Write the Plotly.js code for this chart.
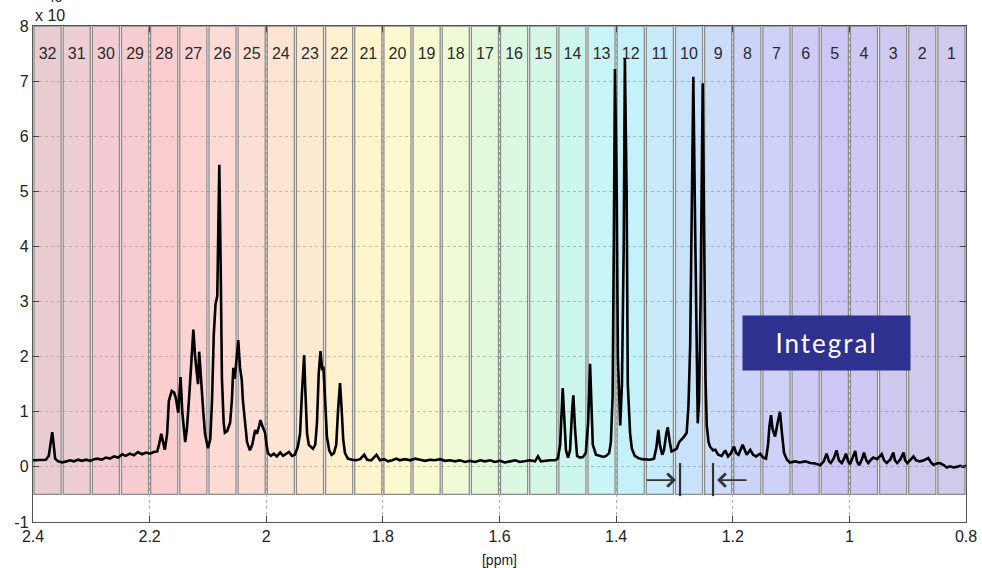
<!DOCTYPE html>
<html>
<head>
<meta charset="utf-8">
<script src="https://cdn.plot.ly/plotly-3.0.1.min.js"></script>
<style>html,body{margin:0;padding:0;background:#fff;}#chart{width:982px;height:568px;}</style>
</head>
<body>
<div id="chart"></div>
<script>
// ---- Data ----
const ppm = [
2.400,2.388,2.378,2.373,2.369,2.367,2.365,2.362,2.357,2.350,
2.343,2.337,2.330,2.323,2.316,2.309,2.302,2.295,2.289,2.282,
2.275,2.268,2.261,2.254,2.247,2.241,2.234,2.227,2.220,2.213,
2.206,2.199,2.193,2.187,2.184,2.180,2.177,2.174,2.170,2.167,
2.162,2.158,2.155,2.151,2.147,2.144,2.139,2.136,2.132,2.129,
2.125,2.122,2.119,2.117,2.115,2.112,2.108,2.105,2.100,2.096,
2.093,2.090,2.087,2.084,2.082,2.0805,2.078,2.076,2.073,2.071,
2.067,2.062,2.059,2.0565,2.054,2.051,2.048,2.045,2.042,2.040,
2.036,2.033,2.028,2.024,2.019,2.016,2.012,2.010,2.007,2.005,
2.002,1.9995,1.997,1.992,1.987,1.982,1.976,1.971,1.966,1.961,
1.956,1.951,1.946,1.942,1.939,1.935,1.933,1.930,1.927,1.923,
1.920,1.916,1.913,1.910,1.907,1.904,1.902,1.899,1.896,1.892,
1.888,1.884,1.880,1.877,1.8735,1.871,1.868,1.865,1.860,1.853,
1.846,1.839,1.832,1.827,1.820,1.811,1.805,1.798,1.791,1.784,
1.777,1.771,1.762,1.753,1.745,1.736,1.728,1.719,1.711,1.702,
1.693,1.685,1.676,1.668,1.659,1.651,1.642,1.633,1.625,1.616,
1.608,1.599,1.591,1.582,1.573,1.565,1.556,1.548,1.539,1.534,
1.529,1.522,1.513,1.505,1.500,1.496,1.494,1.4916,1.489,1.486,
1.4825,1.479,1.4756,1.4734,1.4705,1.467,1.462,1.457,1.452,1.448,
1.4447,1.442,1.440,1.4345,1.428,1.422,1.417,1.412,1.409,1.406,
1.404,1.402,1.399,1.397,1.393,1.390,1.387,1.385,1.382,1.380,
1.376,1.373,1.368,1.362,1.356,1.349,1.342,1.335,1.331,1.3276,
1.325,1.321,1.318,1.314,1.3115,1.308,1.305,1.301,1.296,1.292,
1.2875,1.2835,1.279,1.276,1.273,1.2707,1.2676,1.2647,1.262,1.260,
1.2578,1.2552,1.2515,1.2492,1.2467,1.2446,1.2415,1.239,1.234,1.230,
1.225,1.219,1.213,1.208,1.203,1.198,1.194,1.190,1.183,1.176,
1.170,1.165,1.160,1.153,1.148,1.143,1.1395,1.137,1.1343,1.132,
1.1275,1.123,1.119,1.1155,1.112,1.107,1.102,1.093,1.085,1.076,
1.067,1.059,1.050,1.044,1.039,1.035,1.032,1.027,1.022,1.018,
1.013,1.009,1.006,1.002,0.999,0.995,0.990,0.987,0.983,0.978,
0.975,0.971,0.9675,0.963,0.959,0.9525,0.9445,0.9405,0.936,0.930,
0.9246,0.922,0.918,0.913,0.907,0.9045,0.9006,0.896,0.890,0.8857,
0.879,0.872,0.8646,0.860,0.856,0.850,0.8445,0.8376,0.833,0.827,
0.822,0.816,0.810,0.805,0.800
];
const intensity = [
0.12,0.12,0.13,0.2,0.5,0.63,0.45,0.15,0.1,0.08,
0.1,0.12,0.1,0.13,0.11,0.13,0.11,0.14,0.15,0.13,
0.17,0.15,0.19,0.17,0.23,0.2,0.24,0.21,0.27,0.23,
0.26,0.24,0.27,0.28,0.4,0.6,0.45,0.31,0.6,1.2,
1.38,1.35,1.25,0.98,1.63,1.0,0.45,0.7,1.3,1.9,
2.49,2.0,1.7,1.5,2.09,1.55,1.0,0.6,0.34,0.5,
1.2,2.4,2.95,3.1,4.5,5.48,3.5,1.6,0.8,0.62,
0.65,0.8,1.2,1.8,1.6,1.9,2.3,1.8,1.58,1.2,
0.7,0.45,0.3,0.4,0.67,0.6,0.75,0.85,0.75,0.68,
0.62,0.4,0.25,0.2,0.24,0.19,0.26,0.2,0.23,0.27,
0.2,0.22,0.36,0.6,1.3,2.03,1.4,0.6,0.4,0.36,
0.33,0.4,0.8,1.7,2.1,1.75,1.82,1.2,0.55,0.3,
0.22,0.25,0.4,1.0,1.52,1.1,0.5,0.25,0.15,0.13,
0.12,0.14,0.22,0.13,0.12,0.22,0.12,0.14,0.1,0.12,
0.15,0.12,0.14,0.12,0.15,0.13,0.11,0.13,0.12,0.14,
0.11,0.12,0.1,0.12,0.09,0.11,0.09,0.12,0.1,0.12,
0.09,0.11,0.08,0.1,0.12,0.09,0.1,0.12,0.1,0.19,
0.1,0.11,0.12,0.12,0.15,0.4,1.0,1.43,0.9,0.3,
0.17,0.3,1.0,1.3,0.7,0.2,0.17,0.18,0.25,0.8,
1.87,1.1,0.4,0.22,0.2,0.18,0.2,0.25,0.45,1.3,
4.0,7.22,5.0,2.0,0.75,1.5,4.0,7.42,5.0,1.5,
0.6,0.33,0.2,0.16,0.14,0.13,0.13,0.15,0.35,0.67,
0.4,0.22,0.3,0.6,0.72,0.45,0.28,0.3,0.33,0.45,
0.5,0.55,0.62,1.1,2.2,4.0,7.08,4.5,1.6,0.79,
1.2,3.0,6.96,4.0,1.6,0.75,0.45,0.37,0.3,0.31,
0.22,0.2,0.3,0.19,0.25,0.37,0.25,0.22,0.4,0.22,
0.31,0.22,0.19,0.24,0.17,0.15,0.4,0.75,0.94,0.7,
0.55,0.8,1.0,0.6,0.25,0.13,0.08,0.1,0.08,0.1,
0.07,0.06,0.03,0.1,0.24,0.1,0.07,0.15,0.3,0.12,
0.07,0.15,0.24,0.1,0.05,0.15,0.29,0.1,0.03,0.15,
0.26,0.12,0.07,0.13,0.17,0.14,0.23,0.12,0.07,0.13,
0.26,0.12,0.07,0.13,0.26,0.12,0.07,0.12,0.19,0.12,
0.1,0.12,0.16,0.08,0.04,0.06,0.07,0.03,-0.01,0.01,
-0.01,0.0,0.02,0.0,0.02
];
// 32 integration bins, numbered from the right (0.8 ppm) to the left (2.4 ppm)
const binLabels = [1,2,3,4,5,6,7,8,9,10,11,12,13,14,15,16,17,18,19,20,21,22,23,24,25,26,27,28,29,30,31,32];
const binStartPpm = 0.8;
const binWidthPpm = 0.05;
const binBottom = -0.5;
const binTop = 8;
// integration limits marked by the arrows
const integralLimits = [1.2904, 1.2338];
const xTickVals = [2.4, 2.2, 2.0, 1.8, 1.6, 1.4, 1.2, 1.0, 0.8];
const xTickText = ['2.4','2.2','2','1.8','1.6','1.4','1.2','1','0.8'];
const yTickVals = [-1, 0, 1, 2, 3, 4, 5, 6, 7, 8];
const yTickText = ['-1','0','1','2','3','4','5','6','7','8'];

// ---- Styles ----
const binColors = [
'rgba(150,140,210,0.45)','rgba(150,138,215,0.45)','rgba(148,136,222,0.45)','rgba(146,134,228,0.45)',
'rgba(142,130,232,0.45)','rgba(138,132,236,0.42)','rgba(132,140,238,0.40)','rgba(125,150,240,0.40)',
'rgba(118,165,242,0.38)','rgba(110,180,244,0.38)','rgba(100,200,244,0.36)','rgba(95,215,240,0.36)',
'rgba(95,225,225,0.34)','rgba(100,228,205,0.32)','rgba(115,230,180,0.30)','rgba(135,232,160,0.30)',
'rgba(165,236,140,0.30)','rgba(200,240,120,0.30)','rgba(230,240,110,0.32)','rgba(248,236,110,0.34)',
'rgba(252,226,110,0.34)','rgba(252,212,120,0.36)','rgba(252,198,130,0.36)','rgba(252,186,140,0.38)',
'rgba(252,172,148,0.38)','rgba(252,162,150,0.40)','rgba(250,152,150,0.42)','rgba(246,142,145,0.44)',
'rgba(236,140,150,0.44)','rgba(226,142,155,0.45)','rgba(214,146,158,0.45)','rgba(204,150,160,0.48)'
];
const binCenters = binLabels.map(k => binStartPpm + (k - 0.5) * binWidthPpm);
const FONT = '"Liberation Sans", Arial, sans-serif';

const traces = [
  {
    type: 'bar', x: binCenters, y: binLabels.map(() => binTop - binBottom), base: binBottom,
    width: binWidthPpm * 0.93,
    marker: { color: binColors, line: { color: '#8c8c8c', width: 1.3 } },
    hoverinfo: 'skip', showlegend: false
  },
  {
    type: 'scatter', mode: 'text', x: binCenters, y: binLabels.map(() => 7.47),
    text: binLabels.map(String), textposition: 'middle center',
    textfont: { family: FONT, size: 16, color: '#2a2a2a' },
    hoverinfo: 'skip', showlegend: false
  },
  {
    type: 'scatter', mode: 'lines', x: ppm, y: intensity,
    line: { color: '#000', width: 2.6 },
    hoverinfo: 'skip', showlegend: false
  }
];

const shapes = integralLimits.map(v => ({
  type: 'line', xref: 'x', yref: 'y', x0: v, x1: v, y0: 0.07, y1: -0.53,
  line: { color: '#333', width: 2.2 }
}));

const annotations = [
  { xref: 'x', yref: 'y', x: integralLimits[0] + 0.007, y: -0.24, axref: 'x', ayref: 'y',
    ax: integralLimits[0] + 0.06, ay: -0.24, showarrow: true, arrowhead: 4, arrowsize: 1.6,
    arrowwidth: 1.6, arrowcolor: '#333', text: '' },
  { xref: 'x', yref: 'y', x: integralLimits[1] - 0.007, y: -0.24, axref: 'x', ayref: 'y',
    ax: integralLimits[1] - 0.06, ay: -0.24, showarrow: true, arrowhead: 4, arrowsize: 1.6,
    arrowwidth: 1.6, arrowcolor: '#333', text: '' },
  { xref: 'paper', yref: 'paper', x: 0.8505, y: 0.3609, xanchor: 'center', yanchor: 'middle',
    text: 'Integral', showarrow: false, bgcolor: '#2E3190', width: 163, height: 50,
    borderpad: 2,
    font: { family: 'Lato, "Open Sans", sans-serif', size: 26, color: '#fff' } },
  { xref: 'paper', yref: 'paper', x: 0, y: 1, xanchor: 'left', yanchor: 'bottom', yshift: 0,
    text: 'x 10', showarrow: false, font: { family: FONT, size: 16, color: '#222' } },
  { xref: 'paper', yref: 'paper', x: 0.013, y: 1, xanchor: 'left', yanchor: 'bottom', yshift: 19,
    text: '45', showarrow: false, font: { family: FONT, size: 14, color: '#222' } }
];

const layout = {
  width: 982, height: 568,
  margin: { l: 33, r: 16, t: 26, b: 46 },
  paper_bgcolor: '#fff', plot_bgcolor: '#fff',
  barmode: 'overlay',
  showlegend: false,
  xaxis: {
    range: [2.4, 0.8], tickvals: xTickVals, ticktext: xTickText,
    ticks: 'inside', ticklen: 6, tickcolor: '#444', mirror: 'allticks',
    showline: true, linecolor: '#555', linewidth: 1.2,
    showgrid: true, gridcolor: '#b0b0b0', griddash: 'dot', gridwidth: 1,
    zeroline: false,
    tickfont: { family: FONT, size: 16, color: '#222' },
    title: { text: '[ppm]', font: { family: FONT, size: 14, color: '#222' }, standoff: 10 }
  },
  yaxis: {
    range: [-1, 8], tickvals: yTickVals, ticktext: yTickText,
    ticks: 'inside', ticklen: 6, tickcolor: '#444', mirror: 'allticks',
    showline: true, linecolor: '#555', linewidth: 1.2,
    showgrid: true, gridcolor: '#b0b0b0', griddash: 'dot', gridwidth: 1,
    zeroline: false,
    tickfont: { family: FONT, size: 16, color: '#222' }
  },
  shapes: shapes,
  annotations: annotations
};

Plotly.newPlot('chart', traces, layout, { displayModeBar: false, staticPlot: true }).then(gd => {
  // widen the letter spacing of the "Integral" label as in the reference
  gd.querySelectorAll('.annotation-text').forEach(t => {
    if (t.textContent === 'Integral') t.style.letterSpacing = '2px';
  });
});
</script>
</body>
</html>
